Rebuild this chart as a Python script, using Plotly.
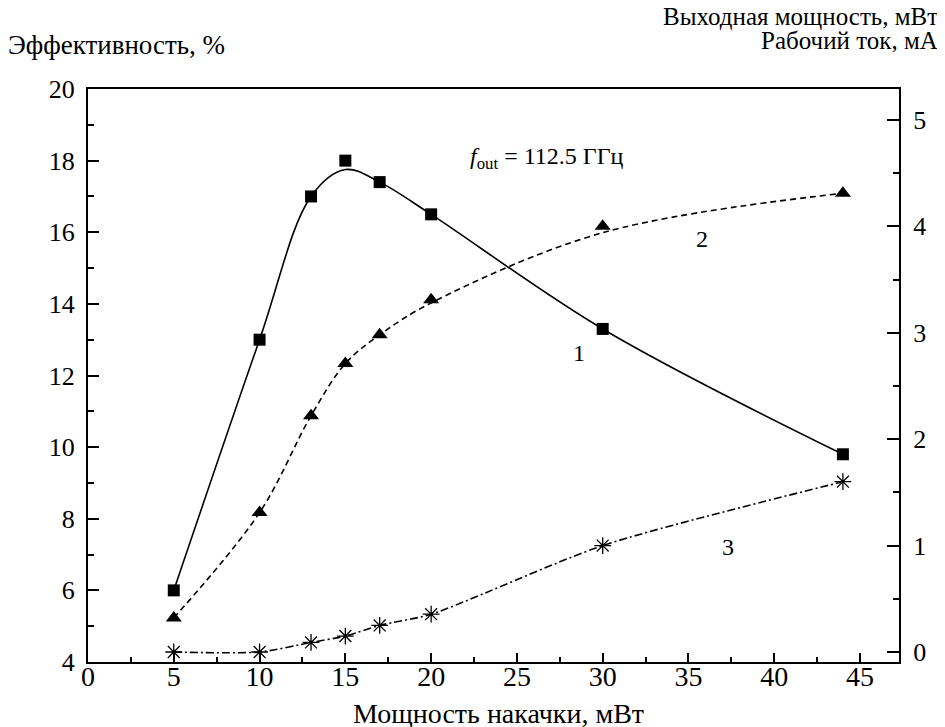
import plotly.graph_objects as go

# ---- data ----
pump_mw = [5, 10, 13, 15, 17, 20, 30, 44]
efficiency_pct = [6.0, 13.0, 17.0, 18.0, 17.4, 16.5, 13.3, 9.8]
efficiency_curve = [6.0, 13.0, 17.0, 17.75, 17.4, 16.5, 13.3, 9.8]
output_power_mw = [0.32, 1.31, 2.22, 2.71, 2.98, 3.31, 4.0, 4.31]
output_power_curve = [0.32, 1.31, 2.22, 2.71, 2.98, 3.28, 3.94, 4.31]
current_ma = [0.0, 0.0, 0.09, 0.15, 0.25, 0.355, 1.0, 1.6]

x_ticks = [0, 5, 10, 15, 20, 25, 30, 35, 40, 45]
y_left_ticks = [4, 6, 8, 10, 12, 14, 16, 18, 20]
y_right_ticks = [0, 1, 2, 3, 4, 5]

# ---- layout constants (page pixels; the page body has an 8px margin) ----
OFF = 8
PAGE_W, PAGE_H = 945, 727
W, H = PAGE_W - OFF, PAGE_H - OFF
L, R, T, B = 88, 899, 89.3, 661.7
FONT = "Liberation Serif, Times New Roman, serif"
TICK_SIZE = 26
TITLE_SIZE = 25


def px(xp):
    return (xp - L) / (R - L)


def py(yp):
    return (B - yp) / (B - T)


fig = go.Figure()

# curve 1: efficiency (left axis)
fig.add_trace(go.Scatter(x=pump_mw, y=efficiency_curve, mode="lines",
                         line=dict(color="black", width=1.6, shape="spline", smoothing=1.0),
                         hoverinfo="skip", showlegend=False))
fig.add_trace(go.Scatter(x=pump_mw, y=efficiency_pct, mode="markers",
                         marker=dict(symbol="square", size=12, color="black"),
                         showlegend=False))

# curve 2: output power (right axis)
fig.add_trace(go.Scatter(x=pump_mw, y=output_power_curve, mode="lines", yaxis="y2",
                         line=dict(color="black", width=1.6, dash="6px,4px", shape="spline", smoothing=1.0),
                         hoverinfo="skip", showlegend=False))
fig.add_trace(go.Scatter(x=pump_mw, y=output_power_mw, mode="markers", yaxis="y2",
                         marker=dict(symbol="triangle-up", size=14, color="black"),
                         showlegend=False))

# curve 3: operating current (right axis)
fig.add_trace(go.Scatter(x=pump_mw, y=current_ma, mode="lines+markers", yaxis="y2",
                         line=dict(color="black", width=1.6, dash="8px,3px,2px,3px", shape="spline", smoothing=0.7),
                         marker=dict(symbol="asterisk-open", size=14, color="black",
                                     line=dict(color="black", width=1.3)),
                         showlegend=False))

axis_common = dict(
    showline=True, linecolor="black", linewidth=2,
    ticks="inside", tickcolor="black", tickwidth=2,
    showgrid=False, zeroline=False,
)

fig.update_layout(
    width=W, height=H,
    paper_bgcolor="white", plot_bgcolor="white",
    margin=dict(l=L - OFF, r=W - (R - OFF), t=T - OFF, b=H - (B - OFF), pad=0),
    font=dict(family=FONT, color="black"),
    xaxis=dict(range=[0, 47.27], tickmode="array", tickvals=x_ticks,
               ticklen=9, mirror=True,
               minor=dict(ticks="inside", ticklen=5, tickwidth=2, tickcolor="black", dtick=2.5, tick0=0),
               ticklabelstandoff=-12,
               tickfont=dict(family=FONT, size=28, color="black"),
               **axis_common),
    yaxis=dict(range=[4, 20], tickmode="array", tickvals=y_left_ticks,
               ticklen=11,
               minor=dict(ticks="inside", ticklen=6, tickwidth=2, tickcolor="black", dtick=1, tick0=0),
               ticklabelstandoff=6,
               tickfont=dict(family=FONT, size=TICK_SIZE, color="black"),
               **axis_common),
    yaxis2=dict(range=[-0.094, 5.29], tickmode="array", tickvals=y_right_ticks,
                overlaying="y", side="right", ticklen=12,
                minor=dict(ticks="inside", ticklen=6, tickwidth=2, tickcolor="black", dtick=0.5, tick0=0),
                ticklabelstandoff=7,
                tickfont=dict(family=FONT, size=TICK_SIZE, color="black"),
                **axis_common),
)

annotations = [
    dict(text="Эффективность, %", x=px(6), y=py(45), xanchor="left", yanchor="middle",
         font=dict(size=27)),
    dict(text="Выходная мощность, мВт", x=px(940), y=py(17), xanchor="right", yanchor="middle",
         font=dict(size=TITLE_SIZE)),
    dict(text="Рабочий ток, мА", x=px(940), y=py(41), xanchor="right", yanchor="middle",
         font=dict(size=TITLE_SIZE)),
    dict(text="Мощность накачки, мВт", x=px(499), y=py(713), xanchor="center", yanchor="middle",
         font=dict(size=28)),
    dict(text="<i>f</i><sub>out</sub> = 112.5 ГГц", x=px(468), y=py(158), xanchor="left", yanchor="middle",
         font=dict(size=24)),
    dict(text="1", x=px(579), y=py(353), xanchor="center", yanchor="middle", font=dict(size=24)),
    dict(text="2", x=px(702), y=py(239), xanchor="center", yanchor="middle", font=dict(size=24)),
    dict(text="3", x=px(728), y=py(547), xanchor="center", yanchor="middle", font=dict(size=24)),
]
for a in annotations:
    a.update(xref="paper", yref="paper", showarrow=False)
    a["font"].update(family=FONT, color="black")
fig.update_layout(annotations=annotations)

fig.write_html("out.html")
